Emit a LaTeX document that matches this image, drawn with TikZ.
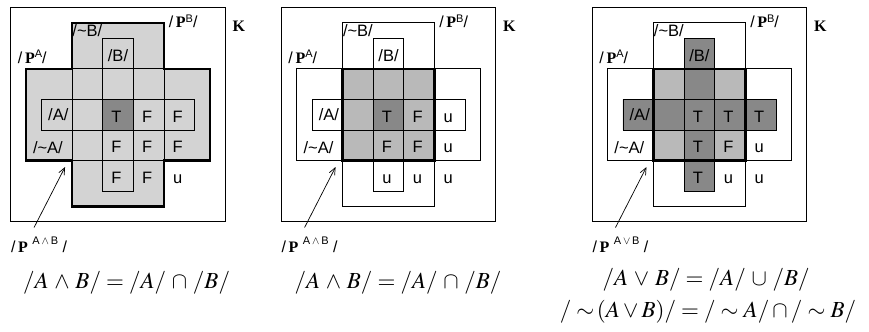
\documentclass[tikz,border=0pt]{standalone}
\usepackage{mathptmx}
\usepackage[no-math]{fontspec}
\setmainfont{Liberation Serif}
\setsansfont{Liberation Sans}
\usetikzlibrary{arrows.meta}
\definecolor{lightcell}{HTML}{D3D3D3}
\definecolor{midcell}{HTML}{B9B9B9}
\definecolor{darkcell}{HTML}{888888}
\tikzset{
  box/.style={draw,line width=0.8pt},
  border/.style={draw,line width=2.4pt},
  val/.style={font=\sffamily\fontsize{16.5}{19}\selectfont,inner sep=0pt,text height=11.8pt,text depth=0pt},
  setname/.style={val},
  plab/.style={font=\fontsize{16}{19}\selectfont,inner sep=0pt,anchor=base},
  formula/.style={font=\fontsize{23}{27}\selectfont,inner sep=0pt,anchor=base},
  pointer/.style={-{Straight Barb[length=7pt,width=6pt]},line width=0.7pt},
}
\begin{document}
\begin{tikzpicture}[x=30.6pt,y=-30.6pt]
  \useasboundingbox (-1.356,-1.248) rectangle (27.042,9.601);
  % fills first
  \fill[lightcell] (-0.5,1) -- (1,1) -- (1,-0.5) -- (4,-0.5) -- (4,1) -- (5.5,1) -- (5.5,4)
    -- (4,4) -- (4,5.5) -- (1,5.5) -- (1,4) -- (-0.5,4) -- cycle;
  \fill[darkcell] (2,2) rectangle (3,3);
  \begin{scope}[shift={(8.84,0)}]
    \fill[midcell] (1,1) rectangle (4,4);
    \fill[darkcell] (2,2) rectangle (3,3);
  \end{scope}
  \begin{scope}[shift={(19,0)}]
    \fill[midcell] (1,1) rectangle (4,4);
    \fill[darkcell] (0,2) rectangle (5,3) (2,0) rectangle (3,5);
  \end{scope}
  % boxes and labels of each panel
  \foreach \p/\dx/\op in {1/0/\wedge,2/8.84/\wedge,3/19/\vee}{
    \begin{scope}[shift={(\dx,0)}]
      \draw[box] (-1,-1) rectangle (6,6);
      \draw[box] (-0.5,1) rectangle (5.5,4);
      \draw[box] (1,-0.5) rectangle (4,5.5);
      \draw[box] (0,2) rectangle (5,3);
      \draw[box] (2,0) rectangle (3,5);
      \node[setname] (A\p) at (0.55,2.5) {/A/};
      \node[setname] (nA\p) at (0.21,3.57) {/\textasciitilde A/};
      \node[setname] (B\p) at (2.5,0.58) {/B/};
      \node[setname] (nB\p) at (1.5,-0.24) {/\textasciitilde B/};
      \node[plab] (PA\p) at (-0.3,0.82) {{\sffamily/}\,\textbf{P}\raisebox{0.75ex}{\sffamily\fontsize{11}{12}\selectfont A}{\sffamily/}};
      \node[plab] (PB\p) at (4.63,-0.34) {{\sffamily/}\,\textbf{P}\raisebox{0.75ex}{\sffamily\fontsize{11}{12}\selectfont B}{\sffamily/}};
      \node[plab] (K\p) at (6.45,-0.21) {\textbf{K}};
      \node[plab] (pab\p) at (-0.08,7.0) {{\sffamily/}\,\textbf{P}\;\raisebox{1.1ex}{\sffamily\fontsize{11}{12}\selectfont A\,$\op$\,B}\;{\sffamily/}};
      \coordinate (tip\p) at (0.77,4.21);
      \draw[pointer] ([xshift=-5pt,yshift=9pt]pab\p.north) -- (tip\p);
    \end{scope}
  }
  % thick outlines
  \draw[border] (-0.5,1) -- (1,1) -- (1,-0.5) -- (4,-0.5) -- (4,1) -- (5.5,1) -- (5.5,4)
    -- (4,4) -- (4,5.5) -- (1,5.5) -- (1,4) -- (-0.5,4) -- cycle;
  \draw[border] (9.84,1) rectangle (12.84,4);
  \draw[border] (20,1) rectangle (23,4);
  % truth values
  \foreach \i/\j/\t in {2/2/T,3/2/F,4/2/F,2/3/F,3/3/F,4/3/F,2/4/F,3/4/F,4/4/u}
    \node[val] (v1-\i-\j) at (\i+0.45,\j+0.55) {\t};
  \foreach \i/\j/\t in {2/2/T,3/2/F,4/2/u,2/3/F,3/3/F,4/3/u,2/4/u,3/4/u,4/4/u}
    \node[val] (v2-\i-\j) at (8.84+\i+0.45,\j+0.55) {\t};
  \foreach \i/\j/\t in {2/2/T,3/2/T,4/2/T,2/3/T,3/3/F,4/3/u,2/4/T,3/4/u,4/4/u}
    \node[val] (v3-\i-\j) at (19+\i+0.45,\j+0.55) {\t};
  % formulas
  \node[formula] (f1) at (2.78,8.17) {$/A\,\wedge\,B/=/A/\,\cap\,/B/$};
  \node[formula] (f2) at (11.65,8.17) {$/A\,\wedge\,B/=/A/\,\cap\,/B/$};
  \node[formula] (f3) at (21.72,8.07) {$/A\,\vee\,B/=/A/\,\cup\,/B/$};
  \node[formula] (f4) at (21.78,9.13) {$/\sim\!(A\vee B)/=/\sim A/\cap/\sim B/$};
\end{tikzpicture}
\end{document}
